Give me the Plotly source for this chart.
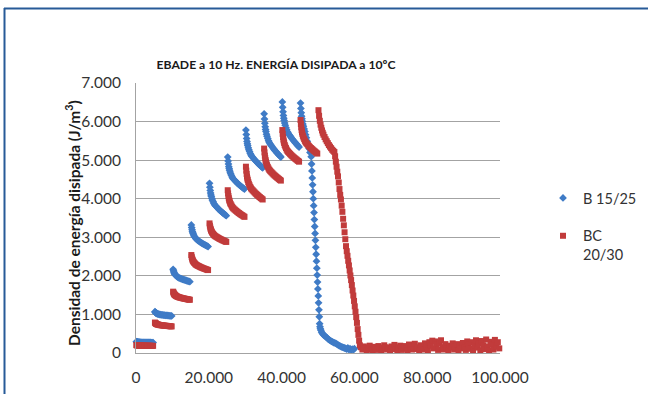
import plotly.graph_objects as go

# ---- cycles at which both mixes were sampled during the first nine load steps ----
step_cycles = [
    100, 200, 300, 400, 500, 600, 750, 900, 1100, 1300, 1500, 1700, 1950, 2200, 2450, 2700, 2950, 3200, 3450, 3700, 3950, 4200, 4450, 4700,
    5200, 5300, 5400, 5500, 5600, 5700, 5850, 6000, 6200, 6400, 6600, 6800, 7050, 7300, 7550, 7800, 8050, 8300, 8550, 8800, 9050, 9300, 9550, 9800,
    10200, 10300, 10400, 10500, 10600, 10700, 10850, 11000, 11200, 11400, 11600, 11800, 12050, 12300, 12550, 12800, 13050, 13300, 13550, 13800, 14050, 14300, 14550, 14800,
    15200, 15300, 15400, 15500, 15600, 15700, 15850, 16000, 16200, 16400, 16600, 16800, 17050, 17300, 17550, 17800, 18050, 18300, 18550, 18800, 19050, 19300, 19550, 19800,
    20200, 20300, 20400, 20500, 20600, 20700, 20850, 21000, 21200, 21400, 21600, 21800, 22050, 22300, 22550, 22800, 23050, 23300, 23550, 23800, 24050, 24300, 24550, 24800,
    25200, 25300, 25400, 25500, 25600, 25700, 25850, 26000, 26200, 26400, 26600, 26800, 27050, 27300, 27550, 27800, 28050, 28300, 28550, 28800, 29050, 29300, 29550, 29800,
    30200, 30300, 30400, 30500, 30600, 30700, 30850, 31000, 31200, 31400, 31600, 31800, 32050, 32300, 32550, 32800, 33050, 33300, 33550, 33800, 34050, 34300, 34550, 34800,
    35200, 35300, 35400, 35500, 35600, 35700, 35850, 36000, 36200, 36400, 36600, 36800, 37050, 37300, 37550, 37800, 38050, 38300, 38550, 38800, 39050, 39300, 39550, 39800,
    40200, 40300, 40400, 40500, 40600, 40700, 40850, 41000, 41200, 41400, 41600, 41800, 42050, 42300, 42550, 42800, 43050, 43300, 43550, 43800, 44050, 44300, 44550, 44800,
]

# ---- B 15/25 ----
b1525_steps_energy = [
    292, 289, 287, 285, 284, 283, 282, 281, 279, 278, 277, 277, 276, 276, 275, 274, 274, 273, 273, 272, 272, 271, 270, 270,
    1070, 1057, 1046, 1037, 1030, 1025, 1018, 1013, 1007, 1002, 997, 994, 991, 988, 984, 981, 978, 975, 973, 970, 968, 965, 962, 960,
    2170, 2132, 2100, 2074, 2055, 2039, 2020, 2004, 1988, 1972, 1959, 1949, 1940, 1930, 1920, 1911, 1903, 1895, 1887, 1879, 1872, 1864, 1857, 1850,
    3320, 3253, 3197, 3152, 3118, 3090, 3057, 3029, 3001, 2973, 2950, 2934, 2917, 2900, 2883, 2866, 2852, 2838, 2824, 2810, 2799, 2785, 2772, 2760,
    4400, 4299, 4215, 4148, 4098, 4056, 4005, 3963, 3921, 3879, 3846, 3820, 3795, 3770, 3745, 3720, 3699, 3678, 3657, 3636, 3619, 3598, 3578, 3560,
    5080, 4980, 4897, 4831, 4781, 4740, 4690, 4648, 4607, 4565, 4532, 4507, 4482, 4458, 4433, 4408, 4387, 4366, 4345, 4325, 4308, 4287, 4268, 4250,
    5780, 5662, 5564, 5486, 5427, 5378, 5319, 5270, 5221, 5172, 5133, 5104, 5074, 5045, 5016, 4986, 4962, 4937, 4913, 4888, 4869, 4844, 4822, 4800,
    6200, 6066, 5954, 5864, 5797, 5741, 5674, 5618, 5562, 5506, 5461, 5427, 5394, 5360, 5326, 5293, 5265, 5237, 5209, 5181, 5158, 5130, 5105, 5080,
    6510, 6370, 6253, 6159, 6089, 6030, 5960, 5902, 5843, 5785, 5738, 5703, 5668, 5633, 5597, 5562, 5533, 5504, 5475, 5445, 5422, 5393, 5366, 5340,
]
b1525_last_step_cycles = [45200, 45300, 45400, 45500, 45600, 45700, 45850, 46000, 46200, 46400, 46600, 46800, 47050, 47300, 47550, 47800]
b1525_last_step_energy = [6480, 6340, 6230, 6140, 6070, 6010, 5940, 5880, 5810, 5740, 5660, 5580, 5490, 5400, 5300, 5200]
b1525_drop_cycles = [
    48130, 48230, 48330, 48420, 48520, 48620, 48710, 48810, 48910, 49000,
    49100, 49200, 49290, 49390, 49490, 49580, 49680, 49780, 49870, 49970,
    50070, 50160, 50260, 50360,
]
b1525_drop_energy = [
    5090, 4900, 4720, 4540, 4360, 4180, 4000, 3820, 3640, 3460,
    3280, 3100, 2920, 2740, 2560, 2380, 2200, 2020, 1840, 1660,
    1480, 1300, 1120, 940,
]
b1525_tail_cycles = [
    50450, 50550, 50650, 50800, 51000, 51200, 51400, 51650, 51900, 52200,
    52500, 52800, 53100, 53400, 53700, 54000, 54300, 54600, 54900, 55200,
    55500, 55800, 56100, 56400, 56700, 57000, 57300, 57600, 57900, 58200,
    58500, 58800, 59100, 59400, 59700, 60000,
]
b1525_tail_energy = [
    760, 680, 630, 590, 540, 510, 480, 460, 440, 420,
    390, 360, 340, 320, 300, 290, 270, 260, 250, 230,
    210, 190, 180, 160, 150, 140, 130, 120, 100, 130,
    90, 110, 80, 100, 90, 110,
]

# ---- BC 20/30 ----
bc2030_steps_energy = [
    205, 203, 201, 199, 198, 197, 196, 195, 194, 193, 192, 191, 191, 190, 189, 189, 188, 188, 187, 187, 186, 186, 185, 185,
    790, 778, 768, 760, 754, 749, 743, 738, 733, 728, 724, 721, 718, 715, 712, 709, 707, 704, 702, 699, 697, 695, 692, 690,
    1590, 1565, 1544, 1527, 1514, 1504, 1491, 1481, 1470, 1460, 1451, 1445, 1439, 1433, 1426, 1420, 1415, 1409, 1404, 1399, 1395, 1389, 1385, 1380,
    2540, 2493, 2454, 2423, 2400, 2380, 2357, 2337, 2318, 2298, 2283, 2271, 2259, 2248, 2236, 2224, 2214, 2205, 2195, 2185, 2177, 2168, 2159, 2150,
    3360, 3302, 3254, 3216, 3187, 3163, 3134, 3110, 3086, 3062, 3043, 3029, 3014, 3000, 2986, 2971, 2959, 2947, 2935, 2923, 2914, 2902, 2891, 2880,
    4220, 4137, 4068, 4013, 3972, 3937, 3896, 3861, 3827, 3792, 3765, 3744, 3723, 3703, 3682, 3661, 3644, 3627, 3609, 3592, 3578, 3561, 3545, 3530,
    4830, 4728, 4643, 4575, 4524, 4482, 4431, 4388, 4346, 4303, 4269, 4244, 4218, 4193, 4167, 4142, 4120, 4099, 4078, 4057, 4040, 4018, 3999, 3980,
    5300, 5200, 5117, 5051, 5001, 4960, 4910, 4868, 4827, 4785, 4752, 4727, 4702, 4678, 4653, 4628, 4607, 4586, 4565, 4545, 4528, 4507, 4488, 4470,
    5780, 5682, 5600, 5534, 5485, 5444, 5395, 5354, 5313, 5272, 5239, 5214, 5190, 5165, 5140, 5116, 5095, 5075, 5054, 5034, 5017, 4997, 4978, 4960,
]
bc2030_last_step_cycles = [
    45200, 45300, 45400, 45500, 45600, 45700, 45850, 46000, 46200, 46400, 46600, 46800,
    47050, 47300, 47550, 47800, 48050, 48300, 48550, 48800, 49050, 49300, 49550, 49800,
]
bc2030_last_step_energy = [
    6040, 5936, 5849, 5779, 5727, 5683, 5631, 5588, 5544, 5501, 5466, 5440,
    5414, 5388, 5361, 5335, 5314, 5292, 5270, 5248, 5231, 5209, 5189, 5170,
]
bc2030_drop_cycles = [
    50130, 50300, 50500, 50700, 50900, 51100, 51300, 51500, 51800, 52100,
    52400, 52700, 53000, 53300, 53600, 53900, 54200, 54500, 54700, 54900,
    55100, 55300, 55500, 55700, 55900, 56100, 56300, 56500, 56700, 56900,
    57100, 57300, 57500, 57700, 57900, 58100, 58300, 58500, 58700, 58900,
    59100, 59300, 59500, 59700, 59900, 60100, 60300, 60500, 60700, 60900,
    61100, 61300, 61500,
]
bc2030_drop_energy = [
    6295, 6150, 6020, 5920, 5840, 5770, 5710, 5660, 5600, 5540,
    5490, 5440, 5390, 5350, 5310, 5270, 5240, 5210, 5100, 4960,
    4830, 4700, 4580, 4420, 4250, 4100, 3980, 3820, 3660, 3480,
    3310, 3130, 2950, 2770, 2640, 2520, 2390, 2270, 2140, 2010,
    1890, 1760, 1620, 1490, 1350, 1210, 1070, 930, 780, 620,
    470, 320, 200,
]
bc2030_tail_cycles = [
    61800, 62200, 62600, 63000, 63400, 63800, 64200, 64600, 65000, 65400,
    65800, 66200, 66600, 67000, 67400, 67800, 68200, 68600, 69000, 69400,
    69800, 70200, 70600, 71000, 71400, 71800, 72200, 72600, 73000, 73400,
    73800, 74200, 74600, 75000, 75400, 75800, 76200, 76600, 77000, 77400,
    77800, 78200, 78600, 79000, 79400, 79800, 80200, 80600, 81000, 81400,
    81800, 82200, 82600, 83000, 83400, 83800, 84200, 84600, 85000, 85400,
    85800, 86200, 86600, 87000, 87400, 87800, 88200, 88600, 89000, 89400,
    89800, 90200, 90600, 91000, 91400, 91800, 92200, 92600, 93000, 93400,
    93800, 94200, 94600, 95000, 95400, 95800, 96200, 96600, 97000, 97400,
    97800, 98200, 98600, 99000, 99400, 99800,
]
bc2030_tail_energy = [
    150, 90, 170, 110, 60, 140, 190, 100, 70, 160,
    120, 80, 180, 140, 60, 110, 200, 150, 90, 130,
    70, 170, 120, 210, 100, 60, 150, 190, 80, 140,
    180, 110, 60, 220, 130, 90, 170, 240, 100, 150,
    70, 200, 130, 90, 250, 160, 60, 280, 190, 320,
    120, 300, 210, 80, 260, 330, 150, 90, 230, 110,
    60, 190, 140, 250, 90, 170, 230, 70, 200, 120,
    260, 150, 80, 300, 210, 110, 280, 60, 190, 330,
    140, 250, 70, 310, 200, 100, 350, 170, 60, 290,
    220, 90, 340, 160, 280, 120,
]

# ---- axes ----
x_tick_values = [0, 20000, 40000, 60000, 80000, 100000]
x_tick_labels = ["0", "20.000", "40.000", "60.000", "80.000", "100.000"]
y_tick_values = [0, 1000, 2000, 3000, 4000, 5000, 6000, 7000]
y_tick_labels = ["0", "1.000", "2.000", "3.000", "4.000", "5.000", "6.000", "7.000"]

BLUE = "#3F7BC6"
RED = "#C13B3B"
GRID = "#A3A3A3"
TEXT = "#333333"
DARK = "#1a1a1a"
FONT = "Lato"

fig = go.Figure()
fig.add_trace(go.Scatter(
    x=step_cycles + b1525_last_step_cycles + b1525_drop_cycles + b1525_tail_cycles,
    y=b1525_steps_energy + b1525_last_step_energy + b1525_drop_energy + b1525_tail_energy,
    mode="markers", name="B 15/25", legendgroup="b",
    marker=dict(symbol="diamond", size=6, color=BLUE, line=dict(width=0)),
    cliponaxis=False,
))
fig.add_trace(go.Scatter(
    x=step_cycles + bc2030_last_step_cycles + bc2030_drop_cycles + bc2030_tail_cycles,
    y=bc2030_steps_energy + bc2030_last_step_energy + bc2030_drop_energy + bc2030_tail_energy,
    mode="markers", name="BC<br>20/30", legendgroup="bc",
    marker=dict(symbol="square", size=6, color=RED, line=dict(width=0)),
    cliponaxis=False,
))

# plot area spans x 136..500 px, y 83..353 px
PL, PR, PT, PB = 136, 500, 83, 353
W, H = 648, 394

def px_x(px):
    return (px - PL) / (PR - PL)

def px_y(py):
    return (PB - py) / (PB - PT)

fig.update_layout(
    width=W, height=H, autosize=False,
    margin=dict(l=PL, r=W - PR, t=PT, b=H - PB, pad=0, autoexpand=False),
    paper_bgcolor="white", plot_bgcolor="white",
    font=dict(family=FONT, size=15, color=TEXT),
    title=dict(
        text="<b>EBADE a 10 Hz. ENERGÍA DISIPADA a 10ºC</b>",
        x=276 / W, xanchor="center", xref="container",
        y=1 - 65 / H, yanchor="middle", yref="container",
        font=dict(family=FONT, size=12.2, color=DARK),
    ),
    xaxis=dict(
        range=[0, 100000], tickvals=x_tick_values, ticktext=x_tick_labels,
        showgrid=False, zeroline=False, showline=True, linecolor=GRID, linewidth=1,
        ticks="", ticklabelstandoff=10, tickfont=dict(family=FONT, size=15.5, color=TEXT),
        automargin=False,
    ),
    yaxis=dict(
        range=[0, 7000], tickvals=y_tick_values, ticktext=y_tick_labels,
        showgrid=True, gridcolor=GRID, gridwidth=1, zeroline=False,
        showline=True, linecolor=GRID, linewidth=1,
        ticks="", ticklabelstandoff=11, tickfont=dict(family=FONT, size=15.5, color=TEXT),
        automargin=False,
    ),
    legend=dict(
        x=px_x(543), xanchor="left", y=px_y(182), yanchor="top",
        font=dict(family=FONT, size=14.5, color=TEXT),
        traceorder="grouped", tracegroupgap=16, valign="top",
        bgcolor="rgba(0,0,0,0)", itemwidth=30,
    ),
    annotations=[
        dict(
            text="<b>Densidad de energía disipada (J/m<sup>3</sup>)</b>",
            xref="paper", yref="paper", x=px_x(72), y=px_y(223),
            xanchor="center", yanchor="middle", textangle=-90, showarrow=False,
            font=dict(family=FONT, size=15.5, color=DARK),
        ),
        dict(
            text="<b>Ciclos</b>",
            xref="paper", yref="paper", x=px_x(310), y=px_y(391),
            xanchor="center", yanchor="top", showarrow=False,
            font=dict(family=FONT, size=14, color=DARK),
        ),
    ],
    shapes=[
        dict(type="line", xref="paper", yref="paper",
             x0=px_x(4), x1=px_x(W), y0=px_y(8.5), y1=px_y(8.5),
             line=dict(color="#275A98", width=2)),
        dict(type="line", xref="paper", yref="paper",
             x0=px_x(4.5), x1=px_x(4.5), y0=px_y(8), y1=px_y(H),
             line=dict(color="#275A98", width=2)),
    ],
)

fig.write_html("out.html")
